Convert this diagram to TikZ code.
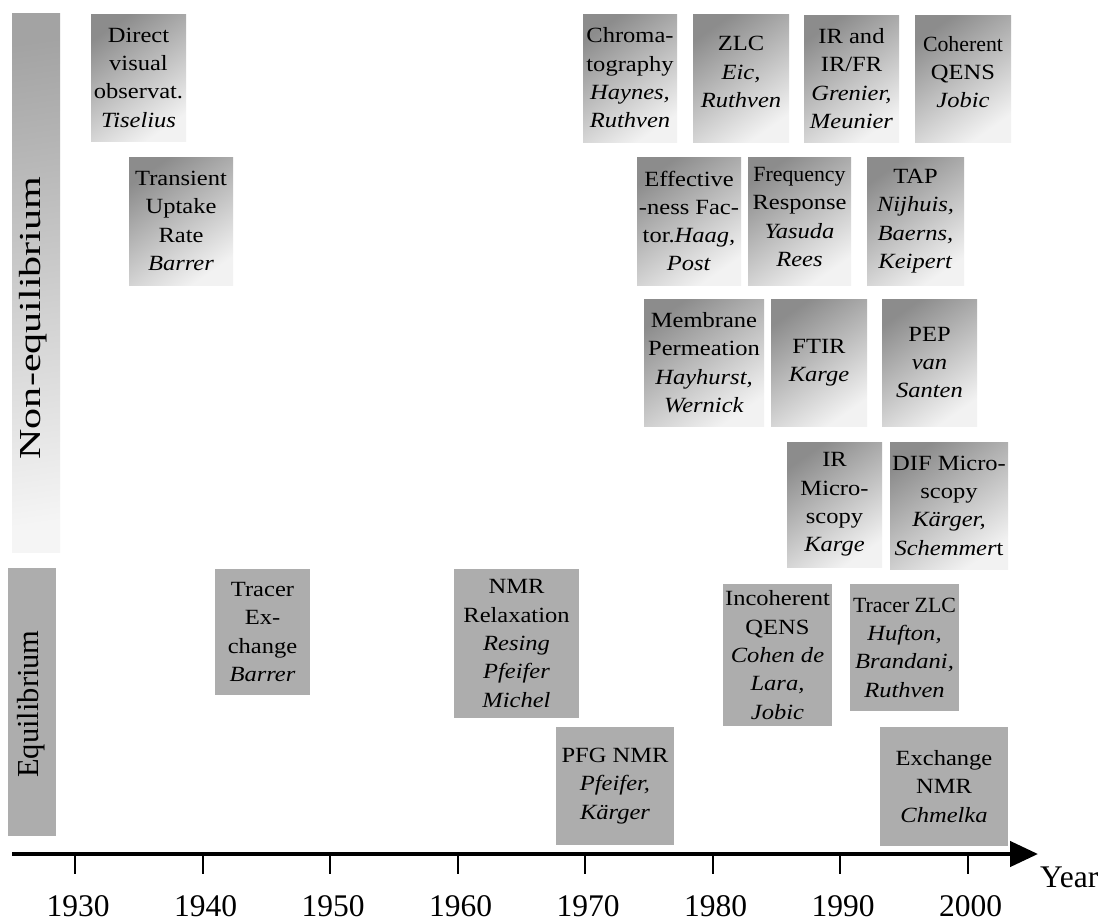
\documentclass[tikz,border=0pt]{standalone}
\usepackage{fontspec}
\usepackage{graphicx}
\setmainfont{Liberation Serif}[FakeStretch=1.13]
\newfontfamily\plainserif{Liberation Serif}
\usetikzlibrary{arrows.meta}
\definecolor{gdark}{gray}{0.55}
\definecolor{glight}{gray}{0.95}
\definecolor{eqfill}{gray}{0.68}
\definecolor{bartop}{gray}{0.64}
\definecolor{barbot}{gray}{0.96}
\newcommand{\condline}[1]{\scalebox{0.89}[1]{#1}}
\tikzset{
  boxtxt/.style={inner sep=0pt, align=center, font=\fontsize{21.7}{28.3}\selectfont},
  neq/.style={boxtxt, top color=gdark, bottom color=glight, shading angle=35},
  eqb/.style={boxtxt, fill=eqfill},
  bigtxt/.style={font=\plainserif\fontsize{31.5}{32}\selectfont, inner sep=0pt, text depth=0pt},
  sidetxt/.style={font=\plainserif\fontsize{30.5}{31}\selectfont, inner sep=0pt, rotate=90},
}
\begin{document}
\begin{tikzpicture}[x=1pt,y=-1pt]
\useasboundingbox[fill=white] (0,0) rectangle (1102,921);
% side bars
\node[inner sep=0pt, minimum width=48, minimum height=539, top color=bartop, bottom color=barbot, shading angle=8] (neqbar) at (36,282.5) {};
\node[inner sep=0pt, minimum width=48, minimum height=268, fill=eqfill] (eqbar) at (32,702) {};
\node[sidetxt] (neqlab) at (33,318) {\scalebox{1.38}[1]{Non-equilibrium}};
\node[sidetxt] (eqlab) at (31,704) {Equilibrium};
% non-equilibrium boxes
\node[neq, minimum width=95, minimum height=127] (n1) at (138.5,77.5) {Direct\\visual\\observat.\\\textit{Tiselius}};
\node[neq, minimum width=104, minimum height=128] (n2) at (181,221) {Transient\\Uptake\\Rate\\\textit{Barrer}};
\node[neq, minimum width=94, minimum height=128] (n3) at (630,78) {Chroma-\\tography\\\textit{Haynes,}\\\textit{Ruthven}};
\node[neq, minimum width=96, minimum height=128] (n4) at (741,78) {};
\node[boxtxt] (n4t) at (741,72) {ZLC\\\textit{Eic,}\\\textit{Ruthven}};
\node[neq, minimum width=95, minimum height=127] (n5) at (851.5,78.5) {IR and\\IR/FR\\\textit{Grenier,}\\\textit{Meunier}};
\node[neq, minimum width=96, minimum height=127] (n6) at (963,78.5) {};
\node[boxtxt] (n6t) at (963,72) {\condline{Coherent}\\QENS\\\textit{Jobic}};
\node[neq, minimum width=104, minimum height=128] (n7) at (689,221) {Effective\\-ness Fac-\\tor.\textit{Haag,}\\\textit{Post}};
\node[neq, minimum width=103, minimum height=128] (n8) at (799.5,221) {};
\node[boxtxt] (n8t) at (799.5,217) {\condline{Frequency}\\Response\\\textit{Yasuda}\\\textit{Rees}};
\node[neq, minimum width=97, minimum height=128] (n9) at (915.5,221) {TAP\\\textit{Nijhuis,}\\\textit{Baerns,}\\\textit{Keipert}};
\node[neq, minimum width=120, minimum height=127] (n10) at (704,362.5) {Membrane\\Permeation\\\textit{Hayhurst,}\\\textit{Wernick}};
\node[neq, minimum width=96, minimum height=127] (n11) at (819,362.5) {FTIR\\\textit{Karge}};
\node[neq, minimum width=95, minimum height=127] (n12) at (929.5,362.5) {PEP\\\textit{van}\\\textit{Santen}};
\node[neq, minimum width=95, minimum height=125] (n13) at (834.5,504.5) {IR\\Micro-\\scopy\\\textit{Karge}};
\node[neq, minimum width=118, minimum height=127] (n14) at (949,505.5) {DIF Micro-\\scopy\\\textit{Kärger,}\\\textit{Schemmer}t};
% equilibrium boxes
\node[eqb, minimum width=95, minimum height=126] (e1) at (262.5,632) {Tracer\\Ex-\\change\\\textit{Barrer}};
\node[eqb, minimum width=125, minimum height=149] (e2) at (516.5,643.5) {NMR\\Relaxation\\\textit{Resing}\\\textit{Pfeifer}\\\textit{Michel}};
\node[eqb, minimum width=118, minimum height=118] (e3) at (615,786) {PFG NMR\\\textit{Pfeifer,}\\\textit{Kärger}};
\node[eqb, minimum width=109, minimum height=142] (e4) at (777.5,655) {Incoherent\\QENS\\\textit{Cohen de}\\\textit{Lara,}\\\textit{Jobic}};
\node[eqb, minimum width=109, minimum height=127] (e5) at (904.5,647.5) {\condline{Tracer ZLC}\\\textit{Hufton,}\\\textit{Brandani,}\\\textit{Ruthven}};
\node[eqb, minimum width=128, minimum height=119] (e6) at (944,786.5) {Exchange\\NMR\\\textit{Chmelka}};
% time axis
\coordinate (ax0) at (12,854);
\coordinate (ax1) at (1038,854);
\draw[line width=4.5pt, -{Triangle[length=28pt, width=25pt]}] (ax0) -- (ax1);
\foreach \yr [count=\i from 0] in {1930,1940,1950,1960,1970,1980,1990,2000} {
  \coordinate (tk\i) at ({75+127.5*\i},854);
  \draw[line width=2pt] (tk\i) -- ++(0,20);
  \node[bigtxt, anchor=base] (yl\i) at ({78+127.5*\i},916) {\yr};
}
\node[bigtxt, anchor=base west] (year) at (1040,887) {Year};
\end{tikzpicture}
\end{document}
